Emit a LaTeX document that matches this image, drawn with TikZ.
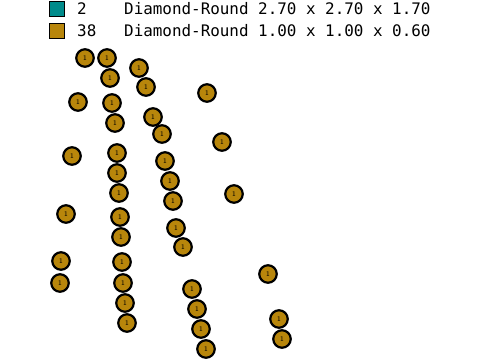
\documentclass[tikz,border=0pt]{standalone}
\usepackage{fontspec}
\newfontfamily\legendfont{DejaVu Sans Mono}
\definecolor{tealfill}{RGB}{0,139,139}
\definecolor{goldfill}{RGB}{184,134,11}
\tikzset{
  stone/.style={circle,draw=black,line width=2.2pt,fill=goldfill,minimum size=17.5pt,inner sep=0pt,font=\sffamily\fontsize{7}{7}\selectfont},
  swatch/.style={draw=black,line width=1.5pt,minimum width=15pt,minimum height=15pt,inner sep=0pt},
  legendtext/.style={anchor=west,inner sep=0pt,font=\legendfont\fontsize{15.9}{16}\selectfont}
}
\begin{document}
\begin{tikzpicture}[x=1pt,y=-1pt]
                \useasboundingbox (0,0) rectangle (480,360);
                %% legend
                \node[swatch,fill=tealfill] (sA) at (57,9) {};
                \node[swatch,fill=goldfill] (sB) at (57,31) {};
                \node[legendtext] (nA) at (77,9) {2};
                \node[legendtext] (nB) at (77,31) {38};
                \node[legendtext] (dA) at (124,9) {Diamond-Round 2.70 x 2.70 x 1.70};
                \node[legendtext] (dB) at (124,31) {Diamond-Round 1.00 x 1.00 x 0.60};
                %% left row
                \node[stone] (a1) at (85,58) {1};
                \node[stone] (a2) at (78,102) {1};
                \node[stone] (a3) at (72,156) {1};
                \node[stone] (a4) at (66,214) {1};
                \node[stone] (a5) at (61,261) {1};
                \node[stone] (a6) at (60,283) {1};
                %% second row
                \node[stone] (b1) at (107,58) {1};
                \node[stone] (b2) at (110,78) {1};
                \node[stone] (b3) at (112,103) {1};
                \node[stone] (b4) at (115,123) {1};
                \node[stone] (b5) at (117,153) {1};
                \node[stone] (b6) at (117,173) {1};
                \node[stone] (b7) at (119,193) {1};
                \node[stone] (b8) at (120,217) {1};
                \node[stone] (b9) at (121,237) {1};
                \node[stone] (b10) at (122,262) {1};
                \node[stone] (b11) at (123,283) {1};
                \node[stone] (b12) at (125,303) {1};
                \node[stone] (b13) at (127,323) {1};
                %% third row
                \node[stone] (c1) at (139,68) {1};
                \node[stone] (c2) at (146,87) {1};
                \node[stone] (c3) at (153,117) {1};
                \node[stone] (c4) at (162,134) {1};
                \node[stone] (c5) at (165,161) {1};
                \node[stone] (c6) at (170,181) {1};
                \node[stone] (c7) at (173,201) {1};
                \node[stone] (c8) at (176,228) {1};
                \node[stone] (c9) at (183,247) {1};
                \node[stone] (c10) at (192,289) {1};
                \node[stone] (c11) at (197,309) {1};
                \node[stone] (c12) at (201,329) {1};
                \node[stone] (c13) at (206,349) {1};
                %% right row
                \node[stone] (d1) at (207,93) {1};
                \node[stone] (d2) at (222,142) {1};
                \node[stone] (d3) at (234,194) {1};
                \node[stone] (d4) at (268,274) {1};
                \node[stone] (d5) at (279,319) {1};
                \node[stone] (d6) at (282,339) {1};
            \end{tikzpicture}
\end{document}
